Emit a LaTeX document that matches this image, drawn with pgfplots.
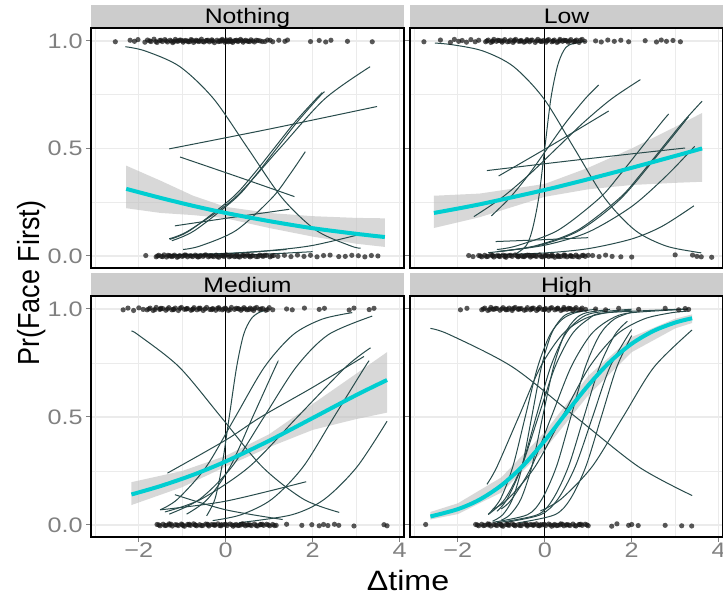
\documentclass[border=0pt]{standalone}
\usepackage{pgfplots}
\pgfplotsset{compat=1.18}
\usepackage{fontspec}
\setmainfont{Liberation Sans}
\definecolor{stripgray}{RGB}{204,204,204}
\definecolor{gridgray}{RGB}{235,235,235}
\definecolor{tickgray}{RGB}{128,128,128}
\definecolor{fitcyan}{RGB}{0,206,209}
\definecolor{curvecol}{RGB}{40,75,75}
\definecolor{ribbon}{RGB}{190,190,190}
\newcommand{\tl}[1]{\scalebox{1.2}[1]{#1}}
\pgfplotsset{
  facet/.style={
    scale only axis, width=156.5pt, height=120pt,
    xmin=-3.1, xmax=4.1, ymin=-0.056, ymax=1.06,
    xtick={-2,0,2,4}, minor xtick={-3,-1,1,3},
    ytick={0,0.5,1}, minor ytick={0.25,0.75},
    grid=both,
    major grid style={gridgray, line width=0.6pt},
    minor grid style={gridgray, line width=0.35pt},
    axis line style={black, line width=0.6pt},
    tick align=outside, major tick length=2.5pt, minor tick length=0pt,
    tick style={tickgray, line width=0.5pt},
    ticklabel style={tickgray, font=\fontsize{10.5}{12}\selectfont},
    xticklabel style={inner sep=0.3pt},
    yticklabel style={inner sep=1.5pt},
    clip=true,
  },
  ind/.style={curvecol, line width=0.5pt, smooth, tension=0.5},
  fit/.style={fitcyan, line width=2pt, smooth},
  rib/.style={fill=ribbon, fill opacity=0.6, draw=none},
  dots/.style={only marks, mark=*, mark size=1.3pt, black!90, opacity=0.72, mark options={draw opacity=0}},
  vl/.style={black, line width=0.6pt},
}
\begin{document}
\begin{tikzpicture}
\path[use as bounding box] (0,0) rectangle (361.5pt,-297pt);
%================ Nothing (top left)
\begin{axis}[facet, at={(45.5pt,-134pt)}, anchor=south west,
  xticklabels={}, xtick style={draw=none}, yticklabels={\tl{0.0},\tl{0.5},\tl{1.0}}]
\addplot[rib] coordinates {(-2.29,0.42) (-1.5,0.35) (-0.75,0.28) (0,0.228) (1,0.2) (2,0.185) (3,0.177) (3.66,0.175)
  (3.66,0.042) (3,0.057) (2,0.09) (1,0.13) (0,0.175) (-0.75,0.19) (-1.5,0.20) (-2.29,0.222)} -- cycle;
\addplot[vl] coordinates {(0,-0.1) (0,1.1)};
\addplot[dots] coordinates {(-2.54,0.996) (-2.2,1.003) (-2.1,0.998) (-2.02,1.006) (-1.86,0.994) (-1.8,1.004) (-1.72,0.997) (-1.65,1.008) (-1.58,0.993) (-1.52,1.002) (-1.46,0.997) (-1.4,1.006) (-1.34,0.995) (-1.28,1.003) (-1.22,0.992) (-1.16,1.007) (-1.1,0.998) (-1.04,1.004) (-0.98,0.994) (-0.92,1.002) (-0.86,0.996) (-0.8,1.006) (-0.74,0.993) (-0.68,1.003) (-0.62,0.997) (-0.56,1.008) (-0.5,0.995) (-0.44,1.002) (-0.38,0.996) (-0.32,1.005) (-0.26,0.992) (-0.2,1.003) (-0.14,0.998) (-0.08,1.007) (-0.02,0.994) (0.02,1.004) (0.06,0.996) (0.1,1.006) (0.16,0.993) (0.22,1.002) (0.28,0.997) (0.34,1.007) (0.4,0.994) (0.46,1.003) (0.52,0.998) (0.58,1.005) (0.66,0.995) (0.74,1.002) (0.84,0.997) (0.96,1.004) (1.08,0.996) (1.22,1.003) (1.36,0.998) (1.42,1.004) (1.95,0.997) (2.15,1.002) (2.3,0.995) (2.42,1.003) (2.8,0.998) (3.37,0.996)
 (-1.25,0.999) (-1.0,1.001) (-0.7,0.999) (-0.45,1.001) (-0.1,0.999) (0.12,1.0) (0.3,1.001) (0.5,0.999) (0.0,1.0) (-0.6,1.0)
 (-1.13,1.0) (-0.88,0.999) (-0.33,1.0) (-0.05,1.001) (0.04,0.999) (0.2,1.0) (0.37,1.001) (0.62,1.0)};
\addplot[dots] coordinates {(-1.75,1.0) (-1.61,0.997) (-1.49,1.003) (-1.37,1.0) (-1.19,0.997) (-1.07,1.003) (-0.95,1.0) (-0.83,0.997) (-0.77,1.003) (-0.65,1.0) (-0.53,0.997) (-0.41,1.003) (-0.29,1.0) (-0.17,0.997) (-0.11,1.003) (0.08,1.0) (0.13,0.997) (0.25,1.003) (0.43,1.0) (0.55,0.997) (0.7,1.003) (0.79,1.0) (0.9,0.997) (1.02,1.003)};
\addplot[dots] coordinates {(-1.84,0.002) (-1.6,-0.004) (-1.54,0.003) (-1.48,-0.002) (-1.42,0.005) (-1.36,-0.005) (-1.3,0.001) (-1.24,-0.003) (-1.18,0.004) (-1.12,-0.006) (-1.06,0.002) (-1.0,-0.002) (-0.94,0.005) (-0.88,-0.004) (-0.82,0.001) (-0.76,-0.003) (-0.7,0.004) (-0.64,-0.005) (-0.58,0.002) (-0.52,-0.002) (-0.46,0.005) (-0.4,-0.004) (-0.34,0.001) (-0.28,-0.003) (-0.22,0.004) (-0.16,-0.006) (-0.1,0.002) (-0.04,-0.002) (0.02,0.005) (0.08,-0.004) (0.14,0.001) (0.2,-0.003) (0.26,0.004) (0.32,-0.005) (0.38,0.002) (0.44,-0.002) (0.5,0.005) (0.56,-0.004) (0.62,0.001) (0.7,-0.003) (0.78,0.004) (0.86,-0.002) (0.94,0.003) (1.02,-0.004) (1.1,0.002) (1.2,-0.002) (1.35,0.003) (1.5,-0.003) (1.65,0.004) (1.8,-0.002) (1.95,0.003) (2.1,-0.004) (2.25,0.002) (2.4,0.004) (2.6,-0.003) (2.75,-0.002) (2.9,0.003) (3.05,0.001) (3.2,-0.004) (3.35,0.002) (3.5,0.0)
 (-1.27,0.0) (-0.97,0.001) (-0.67,-0.001) (-0.37,0.0) (-0.07,0.001) (0.23,-0.001) (0.53,0.0) (0.83,0.001)};
\addplot[dots] coordinates {(-1.57,0.0) (-1.45,-0.003) (-1.33,0.003) (-1.21,0.0) (-1.09,-0.003) (-0.91,0.003) (-0.79,0.0) (-0.61,-0.003) (-0.49,0.003) (-0.31,0.0) (-0.19,-0.003) (-0.01,0.003) (0.11,0.0) (0.29,-0.003) (0.41,0.003) (0.59,0.0) (0.74,-0.003) (0.9,0.003) (1.06,0.0)};
\addplot[ind] coordinates {(-2.31,0.973) (-1.85,0.953) (-1.06,0.881) (-0.28,0.731) (0.51,0.5) (1.30,0.269) (2.08,0.119) (2.87,0.047) (3.1,0.036)};
\addplot[ind] coordinates {(-1.30,0.498) (1.0,0.59) (3.48,0.695)};
\addplot[ind] coordinates {(-1.05,0.46) (0.25,0.37) (1.58,0.276)};
\addplot[ind] coordinates {(-1.29,0.077) (-0.82,0.119) (0.14,0.269) (0.63,0.378) (1.11,0.5) (1.59,0.622) (2.08,0.731) (2.22,0.76)};
\addplot[ind] coordinates {(-1.24,0.071) (-0.71,0.119) (0.23,0.269) (0.70,0.378) (1.17,0.5) (1.64,0.622) (2.11,0.731) (2.27,0.764)};
\addplot[ind] coordinates {(-1.30,0.08) (-0.84,0.119) (0.20,0.269) (1.24,0.5) (2.28,0.731) (3.32,0.88)};
\addplot[ind] coordinates {(-1.17,0.14) (0,0.175) (1.46,0.217)};
\addplot[ind] coordinates {(-0.98,0.03) (-0.58,0.047) (0.24,0.119) (1.06,0.269) (1.47,0.378) (1.83,0.485)};
\addplot[ind] coordinates {(-1.3,0.005) (0,0.012) (1,0.025) (2,0.049) (3.18,0.105)};
\addplot[ind] coordinates {(-1.3,0.003) (0,0.01) (1.4,0.03)};
\addplot[ind] coordinates {(-1.0,0.001) (0.5,0.005) (2.0,0.02)};
\addplot[fit] coordinates {(-2.29,0.312) (-1.5,0.270) (-0.75,0.233) (0,0.200) (1,0.162) (2,0.129) (3,0.103) (3.66,0.088)};
\end{axis}
%================ Low (top right)
\begin{axis}[facet, at={(205pt,-134pt)}, anchor=south west,
  xticklabels={}, yticklabels={}, xtick style={draw=none}, ytick style={draw=none}]
\addplot[rib] coordinates {(-2.55,0.28) (-1.5,0.29) (0,0.335) (1,0.41) (2,0.50) (3,0.60) (3.62,0.665)
  (3.62,0.345) (3,0.34) (2,0.33) (1,0.31) (0,0.275) (-1.5,0.18) (-2.55,0.13)} -- cycle;
\addplot[vl] coordinates {(0,-0.1) (0,1.1)};
\addplot[dots] coordinates {(-2.78,0.996) (-2.4,1.004) (-2.17,0.993) (-2.08,1.007) (-1.98,0.998) (-1.9,1.002) (-1.8,0.994) (-1.7,1.006) (-1.6,0.996) (-1.52,1.003)
 (-1.36,0.996) (-1.3,1.004) (-1.24,0.993) (-1.17,1.007) (-1.11,0.998) (-1.05,1.002) (-0.98,0.994) (-0.92,1.006) (-0.86,0.996) (-0.79,1.004) (-0.73,0.993) (-0.67,1.007) (-0.6,0.998) (-0.54,1.002) (-0.48,0.994) (-0.41,1.006) (-0.35,0.996) (-0.29,1.004) (-0.22,0.993) (-0.16,1.007) (-0.1,0.998) (-0.03,1.002) (0.03,0.994) (0.09,1.006) (0.16,0.996) (0.22,1.004) (0.28,0.993) (0.35,1.007) (0.41,0.998) (0.47,1.002) (0.54,0.994) (0.6,1.006) (0.66,0.996) (0.73,1.004) (0.79,0.993) (0.86,1.007) (0.92,0.998)
 (1.17,1.0) (1.3,0.995) (1.45,1.004) (1.6,0.998) (1.75,1.003) (1.93,0.996) (2.31,1.001) (2.57,0.995) (2.68,1.004) (2.8,0.998) (2.95,1.002) (3.12,0.996)
 (-1.0,1.0) (-0.7,0.999) (-0.4,1.001) (-0.1,1.0) (0.2,0.999) (0.5,1.001) (-1.2,1.0) (-0.55,0.999) (0.05,1.0) (0.35,1.001) (0.7,1.0)};
\addplot[dots] coordinates {(-1.33,1.0) (-1.2,0.997) (-1.08,1.003) (-0.95,1.0) (-0.82,0.997) (-0.7,1.003) (-0.57,1.0) (-0.45,0.997) (-0.32,1.003) (-0.19,1.0) (-0.06,0.997) (0.06,1.003) (0.19,1.0) (0.31,0.997) (0.44,1.003) (0.57,1.0) (0.69,0.997) (0.82,1.003)};
\addplot[dots] coordinates {(-1.75,0.002) (-1.65,-0.003)
 (-1.52,0.002) (-1.45,-0.004) (-1.38,0.003) (-1.31,-0.002) (-1.24,0.005) (-1.17,-0.005) (-1.1,0.001) (-1.03,-0.003) (-0.96,0.004) (-0.89,-0.006) (-0.82,0.002) (-0.75,-0.002) (-0.68,0.005) (-0.61,-0.004) (-0.54,0.001) (-0.47,-0.003) (-0.4,0.004) (-0.33,-0.005) (-0.26,0.002) (-0.19,-0.002) (-0.12,0.005) (-0.05,-0.004) (0.02,0.001) (0.09,-0.003) (0.16,0.004) (0.23,-0.006) (0.3,0.002) (0.37,-0.002) (0.44,0.005) (0.51,-0.004) (0.58,0.001) (0.65,-0.003) (0.72,0.004) (0.79,-0.005) (0.86,0.002) (0.93,-0.002) (1.0,0.003)
 (1.1,0.002) (1.25,-0.003) (1.4,0.004) (1.55,-0.002) (1.75,-0.004) (2.0,-0.005) (3.0,0.005) (3.4,0.004) (3.5,-0.002) (3.6,-0.004) (3.84,-0.006)
 (-1.2,0.0) (-0.9,0.001) (-0.6,-0.001) (-0.3,0.0) (0.0,0.001) (0.3,-0.001) (0.6,0.0) (-1.05,0.0) (-0.45,0.001) (0.15,0.0) (0.45,-0.001)};
\addplot[dots] coordinates {(-1.48,0.0) (-1.34,-0.003) (-1.2,0.003) (-1.06,0.0) (-0.92,-0.003) (-0.78,0.003) (-0.64,0.0) (-0.5,-0.003) (-0.36,0.003) (-0.22,0.0) (-0.08,-0.003) (0.05,0.003) (0.19,0.0) (0.33,-0.003) (0.47,0.003) (0.61,0.0) (0.75,-0.003) (0.89,0.003)};
\addplot[ind] coordinates {(-2.53,0.99) (-2.12,0.982) (-1.42,0.953) (-0.72,0.881) (-0.02,0.731) (0.68,0.5) (1.38,0.269) (2.08,0.119) (2.78,0.047) (3.48,0.018) (3.6,0.015)};
\addplot[ind] coordinates {(-0.67,0.009) (-0.43,0.047) (-0.29,0.119) (-0.14,0.269) (0,0.5) (0.14,0.731) (0.29,0.881) (0.43,0.953) (0.57,0.982) (0.94,0.998)};
\addplot[ind] coordinates {(-1.33,0.397) (0.9,0.45) (3.23,0.502)};
\addplot[ind] coordinates {(-1.06,0.372) (0.2,0.52) (1.47,0.674)};
\addplot[ind] coordinates {(-1.63,0.183) (-1.0,0.269) (-0.36,0.378) (0.27,0.5) (0.9,0.622) (1.54,0.731) (2.2,0.82)};
\addplot[ind] coordinates {(-1.23,0.186) (-0.81,0.269) (-0.37,0.378) (0.06,0.5) (0.49,0.622) (0.93,0.731) (1.24,0.795)};
\addplot[ind] coordinates {(-1.13,0.067) (0,0.076) (1.0,0.085)};
\addplot[ind] coordinates {(-1.1,0.03) (-0.65,0.047) (0.30,0.119) (1.26,0.269) (1.73,0.378) (2.21,0.5) (2.69,0.622) (2.85,0.66)};
\addplot[ind] coordinates {(-1.1,0.02) (-0.22,0.047) (0.75,0.119) (1.72,0.269) (2.2,0.378) (2.69,0.5) (3.18,0.622) (3.62,0.72)};
\addplot[ind] coordinates {(-1.2,0.005) (0,0.014) (1,0.034) (2,0.079) (2.7,0.138) (3.43,0.233)};
\addplot[ind] coordinates {(-1.1,0.02) (0,0.05) (1,0.111) (2,0.23) (2.8,0.373) (3.45,0.51)};
\addplot[ind] coordinates {(-1.3,0.015) (-0.17,0.047) (0.80,0.119) (1.76,0.269) (2.72,0.5) (3.31,0.648)};
\addplot[fit] coordinates {(-2.55,0.200) (-1.5,0.240) (0,0.307) (1,0.357) (2,0.410) (3,0.465) (3.62,0.5)};
\end{axis}
%================ Medium (bottom left)
\begin{axis}[facet, at={(45.5pt,-268.5pt)}, anchor=south west, height=120.5pt,
  xticklabels={\tl{−2},\tl{0},\tl{2},\tl{4}}, yticklabels={\tl{0.0},\tl{0.5},\tl{1.0}}]
\addplot[rib] coordinates {(-2.17,0.198) (-1,0.25) (0,0.32) (1,0.42) (2,0.56) (3,0.70) (3.71,0.80)
  (3.71,0.52) (3,0.49) (2,0.44) (1,0.36) (0,0.27) (-1,0.175) (-2.17,0.092)} -- cycle;
\addplot[vl] coordinates {(0,-0.1) (0,1.1)};
\addplot[dots] coordinates {(-2.36,0.996) (-2.25,1.004) (-2.12,0.993) (-2.0,1.005) (-1.9,0.998)
 (-1.81,0.996) (-1.74,1.004) (-1.67,0.993) (-1.6,1.007) (-1.52,0.998) (-1.45,1.002) (-1.38,0.994) (-1.31,1.006) (-1.24,0.996) (-1.16,1.004) (-1.09,0.993) (-1.02,1.007) (-0.95,0.998) (-0.88,1.002) (-0.8,0.994) (-0.73,1.006) (-0.66,0.996) (-0.59,1.004) (-0.52,0.993) (-0.44,1.007) (-0.37,0.998) (-0.3,1.002) (-0.23,0.994) (-0.16,1.006) (-0.08,0.996) (-0.01,1.004) (0.06,0.993) (0.13,1.007) (0.2,0.998) (0.28,1.002) (0.35,0.994) (0.42,1.006) (0.49,0.996) (0.56,1.004) (0.64,0.993) (0.71,1.007) (0.78,0.998) (0.85,1.002) (0.92,0.994) (1.0,1.006) (1.08,0.996)
 (1.4,1.0) (1.53,0.996) (1.81,1.004) (2.15,0.998) (2.27,1.003) (2.84,0.995) (2.95,1.004) (3.3,0.997) (3.41,1.003)
 (-1.5,1.0) (-1.2,0.999) (-0.9,1.001) (-0.6,1.0) (-0.3,0.999) (0.0,1.001) (0.3,1.0) (0.6,0.999) (-0.75,1.0) (-0.15,0.999) (0.45,1.0)};
\addplot[dots] coordinates {(-1.77,1.0) (-1.63,0.997) (-1.49,1.003) (-1.34,1.0) (-1.2,0.997) (-1.05,1.003) (-0.91,1.0) (-0.77,0.997) (-0.62,1.003) (-0.48,1.0) (-0.33,0.997) (-0.19,1.003) (-0.05,1.0) (0.1,0.997) (0.24,1.003) (0.38,1.0) (0.53,0.997) (0.67,1.003) (0.81,1.0) (0.96,0.997)};
\addplot[dots] coordinates {(-1.58,0.002) (-1.51,-0.004) (-1.44,0.003) (-1.37,-0.002) (-1.3,0.005) (-1.23,-0.005) (-1.16,0.001) (-1.09,-0.003) (-1.02,0.004) (-0.95,-0.006) (-0.88,0.002) (-0.81,-0.002) (-0.74,0.005) (-0.67,-0.004) (-0.6,0.001) (-0.53,-0.003) (-0.46,0.004) (-0.39,-0.005) (-0.32,0.002) (-0.25,-0.002) (-0.18,0.005) (-0.11,-0.004) (-0.04,0.001) (0.03,-0.003) (0.1,0.004) (0.17,-0.006) (0.24,0.002) (0.31,-0.002) (0.38,0.005) (0.45,-0.004) (0.52,0.001) (0.59,-0.003) (0.66,0.004) (0.73,-0.005) (0.8,0.002) (0.87,-0.002) (0.94,0.003) (1.01,-0.004) (1.08,0.002) (1.16,-0.002)
 (1.4,0.003) (1.75,-0.002) (1.98,0.001) (2.15,-0.004) (2.25,0.002) (2.35,-0.003) (2.5,0.003) (2.6,-0.002) (2.95,-0.005) (3.64,0.001) (3.71,-0.004)
 (-1.3,0.0) (-1.0,0.001) (-0.7,-0.001) (-0.4,0.0) (-0.1,0.001) (0.2,-0.001) (0.5,0.0) (0.8,0.001) (-0.85,0.0) (-0.25,0.001) (0.35,0.0)};
\addplot[dots] coordinates {(-1.54,0.0) (-1.4,-0.003) (-1.26,0.003) (-1.12,0.0) (-0.98,-0.003) (-0.84,0.003) (-0.7,0.0) (-0.56,-0.003) (-0.42,0.003) (-0.28,0.0) (-0.14,-0.003) (0.0,0.003) (0.14,0.0) (0.28,-0.003) (0.42,0.003) (0.56,0.0) (0.7,-0.003) (0.84,0.003) (0.98,0.0) (1.12,-0.003)};
\addplot[ind] coordinates {(-2.17,0.897) (-2.02,0.881) (-1.07,0.731) (-0.11,0.5) (0.84,0.269) (1.79,0.119) (2.61,0.058)};
\addplot[ind] coordinates {(-0.44,0.042) (-0.25,0.119) (-0.09,0.269) (0.08,0.5) (0.25,0.731) (0.41,0.881) (0.58,0.953) (0.75,0.982) (0.93,0.994)};
\addplot[ind] coordinates {(-1.34,0.24) (0,0.393) (0.81,0.5) (2,0.637) (3.18,0.78)};
\addplot[ind] coordinates {(-1.51,0.07) (-1.11,0.119) (-0.45,0.269) (0.22,0.5) (0.89,0.731) (1.55,0.881) (2.22,0.953) (2.91,0.983)};
\addplot[ind] coordinates {(-1.3,0.05) (-0.6,0.119) (0.14,0.269) (0.88,0.5) (1.62,0.731) (2.36,0.881) (3.37,0.967)};
\addplot[ind] coordinates {(-1.4,0.06) (-0.57,0.119) (0.54,0.269) (1.65,0.5) (2.76,0.731) (3.33,0.82)};
\addplot[ind] coordinates {(-0.3,0.02) (0.35,0.047) (1.06,0.119) (1.78,0.269) (2.49,0.5) (3.2,0.731) (3.3,0.76)};
\addplot[ind] coordinates {(0.3,0.01) (1.52,0.047) (2.27,0.119) (3.02,0.269) (3.71,0.48)};
\addplot[ind] coordinates {(-1.5,0.07) (0,0.11) (1.85,0.2)};
\addplot[ind] coordinates {(-0.9,0.05) (-0.42,0.119) (0.1,0.269) (0.62,0.5) (1.14,0.731) (1.2,0.754)};
\addplot[ind] coordinates {(-1.17,0.14) (0,0.07) (1.31,0.025)};
\addplot[fit] coordinates {(-2.17,0.141) (-1.5,0.180) (-0.75,0.232) (0,0.294) (1,0.390) (2,0.495) (3,0.601) (3.71,0.671)};
\end{axis}
%================ High (bottom right)
\begin{axis}[facet, at={(205pt,-268.5pt)}, anchor=south west, height=120.5pt,
  xticklabels={\tl{−2},\tl{0},\tl{2},\tl{4}}, yticklabels={}, ytick style={draw=none}]
\addplot[rib] coordinates {(-2.63,0.06) (-2,0.10) (-1,0.22) (0,0.43) (1,0.69) (2,0.87) (3,0.955) (3.39,0.975)
  (3.39,0.935) (3,0.91) (2,0.80) (1,0.60) (0,0.35) (-1,0.15) (-2,0.05) (-2.63,0.025)} -- cycle;
\addplot[vl] coordinates {(0,-0.1) (0,1.1)};
\addplot[dots] coordinates {(-1.94,0.996) (-1.79,1.003)
 (-1.45,0.996) (-1.38,1.004) (-1.31,0.993) (-1.24,1.007) (-1.17,0.998) (-1.1,1.002) (-1.03,0.994) (-0.96,1.006) (-0.89,0.996) (-0.82,1.004) (-0.75,0.993) (-0.68,1.007) (-0.61,0.998) (-0.54,1.002) (-0.47,0.994) (-0.4,1.006) (-0.33,0.996) (-0.26,1.004) (-0.19,0.993) (-0.12,1.007) (-0.05,0.998) (0.02,1.002) (0.09,0.994) (0.16,1.006) (0.23,0.996) (0.3,1.004) (0.37,0.993) (0.44,1.007) (0.51,0.998) (0.58,1.002) (0.65,0.994) (0.72,1.006) (0.79,0.996) (0.86,1.004) (0.94,0.998)
 (1.17,1.0) (1.4,0.996) (1.7,1.003) (2.16,0.998) (2.77,1.003) (3.08,0.996) (3.23,1.002) (3.31,0.998)
 (-1.2,1.0) (-0.9,0.999) (-0.6,1.001) (-0.3,1.0) (0.0,0.999) (0.3,1.001) (0.6,1.0) (-0.75,1.0) (-0.15,0.999) (0.45,1.0)};
\addplot[dots] coordinates {(-1.41,1.0) (-1.27,0.997) (-1.13,1.003) (-0.99,1.0) (-0.85,0.997) (-0.71,1.003) (-0.57,1.0) (-0.43,0.997) (-0.29,1.003) (-0.15,1.0) (-0.01,0.997) (0.13,1.003) (0.27,1.0) (0.41,0.997) (0.55,1.003) (0.69,1.0) (0.83,0.997)};
\addplot[dots] coordinates {(-2.74,0.002)
 (-1.59,0.002) (-1.52,-0.004) (-1.45,0.003) (-1.38,-0.002) (-1.31,0.005) (-1.24,-0.005) (-1.17,0.001) (-1.1,-0.003) (-1.03,0.004) (-0.96,-0.006) (-0.89,0.002) (-0.82,-0.002) (-0.75,0.005) (-0.68,-0.004) (-0.61,0.001) (-0.54,-0.003) (-0.47,0.004) (-0.4,-0.005) (-0.33,0.002) (-0.26,-0.002) (-0.19,0.005) (-0.12,-0.004) (-0.05,0.001) (0.02,-0.003) (0.09,0.004) (0.16,-0.006) (0.23,0.002) (0.3,-0.002) (0.37,0.005) (0.44,-0.004) (0.51,0.001) (0.58,-0.003) (0.65,0.004) (0.72,-0.005) (0.79,0.002) (0.86,-0.002) (0.93,0.003) (1.0,-0.004)
 (1.54,-0.006) (1.66,0.005) (1.93,-0.002) (2.0,0.002) (2.15,-0.003) (2.77,-0.002) (3.15,-0.004) (3.38,-0.005)
 (-1.3,0.0) (-1.0,0.001) (-0.7,-0.001) (-0.4,0.0) (-0.1,0.001) (0.2,-0.001) (0.5,0.0) (0.8,0.001) (-0.85,0.0) (-0.25,0.001) (0.35,0.0)};
\addplot[dots] coordinates {(-1.55,0.0) (-1.41,-0.003) (-1.27,0.003) (-1.13,0.0) (-0.99,-0.003) (-0.85,0.003) (-0.71,0.0) (-0.57,-0.003) (-0.43,0.003) (-0.29,0.0) (-0.15,-0.003) (-0.01,0.003) (0.13,0.0) (0.27,-0.003) (0.41,0.003) (0.55,0.0) (0.69,-0.003) (0.83,0.003) (0.97,0.0)};
\addplot[ind] coordinates {(-2.63,0.91) (-2.19,0.881) (-0.74,0.731) (0.71,0.5) (2.16,0.269) (3.39,0.136)};
\addplot[ind] coordinates {(-1.3,0.049) (-1.021,0.119) (-0.736,0.269) (-0.45,0.5) (-0.164,0.731) (0.121,0.881) (0.407,0.953) (0.693,0.982) (1.0,0.994)};
\addplot[ind] coordinates {(-1.2,0.017) (-0.967,0.047) (-0.744,0.119) (-0.522,0.269) (-0.3,0.5) (-0.078,0.731) (0.144,0.881) (0.367,0.953) (0.589,0.982) (1.2,0.999)};
\addplot[ind] coordinates {(-1.1,0.063) (-0.867,0.119) (-0.533,0.269) (-0.2,0.5) (0.133,0.731) (0.467,0.881) (0.8,0.953) (1.133,0.982) (2.0,0.999)};
\addplot[ind] coordinates {(-1.0,0.022) (-0.8,0.047) (-0.55,0.119) (-0.3,0.269) (-0.05,0.5) (0.2,0.731) (0.45,0.881) (0.7,0.953) (0.95,0.982) (1.5,0.998)};
\addplot[ind] coordinates {(-1.33,0.188) (-1.1,0.269) (-0.6,0.5) (-0.1,0.731) (0.4,0.881) (0.9,0.953) (1.4,0.982) (2.0,0.9945)};
\addplot[ind] coordinates {(-1.0,0.074) (-0.759,0.119) (-0.305,0.269) (0.15,0.5) (0.605,0.731) (1.059,0.881) (1.514,0.953) (1.968,0.982) (3.3,0.999)};
\addplot[ind] coordinates {(-1.2,0.012) (-0.4,0.047) (-0.067,0.119) (0.267,0.269) (0.6,0.5) (0.933,0.731) (1.267,0.881) (1.6,0.953) (2.0,0.985)};
\addplot[ind] coordinates {(-1.1,0.01) (-0.171,0.047) (0.186,0.119) (0.543,0.269) (0.9,0.5) (1.257,0.731) (1.614,0.881) (1.9,0.943)};
\addplot[ind] coordinates {(-0.9,0.012) (-0.1,0.047) (0.3,0.119) (0.7,0.269) (1.1,0.5) (1.5,0.731) (2.0,0.905)};
\addplot[ind] coordinates {(-0.6,0.01) (0.229,0.047) (0.586,0.119) (0.943,0.269) (1.3,0.5) (1.657,0.731) (2.0,0.877)};
\addplot[ind] coordinates {(-0.1,0.065) (0.371,0.119) (1.086,0.269) (1.8,0.5) (2.514,0.731) (3.39,0.903)};
\addplot[ind] coordinates {(-1.2,0.072) (-0.85,0.119) (-0.225,0.269) (0.4,0.5) (1.025,0.731) (1.65,0.881) (2.275,0.953) (2.9,0.982) (3.3,0.99)};
\addplot[ind] coordinates {(-1.3,0.048) (-0.919,0.119) (-0.535,0.269) (-0.15,0.5) (0.235,0.731) (0.619,0.881) (1.004,0.953) (1.388,0.982) (3.3,1.0)};
\addplot[fit] coordinates {(-2.63,0.039) (-2,0.073) (-1.5,0.117) (-1,0.183) (-0.5,0.274) (0,0.39) (0.5,0.52) (1,0.646) (1.5,0.755) (2,0.839) (2.5,0.898) (3,0.937) (3.39,0.957)};
\end{axis}
%================ strips and titles
\fill[stripgray] (45.5pt,-2.5pt) rectangle (202pt,-13.5pt);
\fill[stripgray] (205pt,-2.5pt) rectangle (361.5pt,-13.5pt);
\fill[stripgray] (45.5pt,-136.5pt) rectangle (202pt,-147.5pt);
\fill[stripgray] (205pt,-136.5pt) rectangle (361.5pt,-147.5pt);
\begin{scope}[every node/.style={font=\fontsize{10.5}{12}\selectfont, xscale=1.18, inner sep=0pt, anchor=base}]
\node at (123.75pt,-12pt) {Nothing};
\node at (283.25pt,-12pt) {Low};
\node at (123.75pt,-146pt) {Medium};
\node at (283.25pt,-146pt) {High};
\end{scope}
\node[rotate=90, yscale=1.13, font=\fontsize{13.5}{15}\selectfont] at (16pt,-141.5pt) {Pr(Face First)};
\node[xscale=1.15, font=\fontsize{14}{16}\selectfont] at (204pt,-290pt) {Δtime};
\end{tikzpicture}
\end{document}
